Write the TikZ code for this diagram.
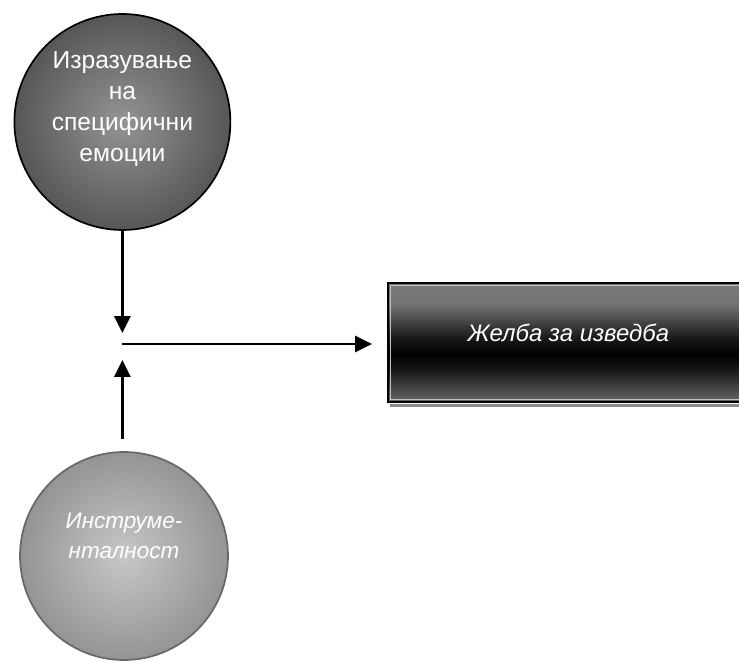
\documentclass[tikz,border=0pt]{standalone}
\usepackage{fontspec}
\setmainfont{Liberation Sans}
\usetikzlibrary{arrows.meta,shadings}

\pgfdeclareverticalshading{wishband}{100bp}{color(0bp)=(black!47); color(22bp)=(black!52);
  color(38bp)=(black!90); color(45bp)=(black); color(52bp)=(black!90);
  color(66bp)=(black!55); color(100bp)=(black!45)}

\begin{document}
\begin{tikzpicture}[
  bubble/.style={circle, shading=radial, line width=1.2pt},
  bubbletext/.style={text=white, align=center},
  flow/.style={line width=1.6pt, -{Triangle[length=12pt,width=11.5pt]}},
]
\useasboundingbox (0,0) rectangle (18.475,16.575);
\clip (0,0) rectangle (18.475,16.575);

\node[bubble, draw=black, minimum size=5.4cm,
  inner color=black!42, outer color=black!66] (emo) at (3.06,13.525) {};
\node[bubbletext, font=\fontsize{17.5}{22}\selectfont] (emotext)
  at ([yshift=0.33cm]emo.center) {Изразување\\на\\специфични\\емоции};
\node[bubble, draw=black!60, minimum size=5.2cm,
  inner color=black!22, outer color=black!42] (inst) at (3.1,2.675) {};
\node[bubbletext, font=\fontsize{16}{21.3}\selectfont\itshape] (insttext)
  at ([yshift=0.5cm]inst.center) {Инструме-\\нталност};

\draw[black!45, line width=2pt] (9.75,6.44) -- (18.6,6.44);
\node[draw=black, line width=1.5pt, minimum width=9.02cm, minimum height=2.975cm,
  shading=wishband] (wish) at (14.21,8.0125) {};
\draw[white!75!black, line width=0.7pt]
  ([shift={(0.08,-0.08)}]wish.north west) rectangle ([shift={(-0.08,0.08)}]wish.south east);
\node[text=white, font=\fontsize{17}{20}\selectfont\itshape] (wishtext)
  at ([yshift=0.24cm]wish.center) {Желба за изведба};

\coordinate (meet) at (3.06,7.975);
\draw[flow] (emo.south) -- ([yshift=0.275cm]meet);
\draw[flow] ([yshift=0.3cm]inst.north -| meet) -- ([yshift=-0.4cm]meet);
\draw[flow, shorten >=0.375cm] (meet) -- (meet -| wish.west);

\end{tikzpicture}
\end{document}
